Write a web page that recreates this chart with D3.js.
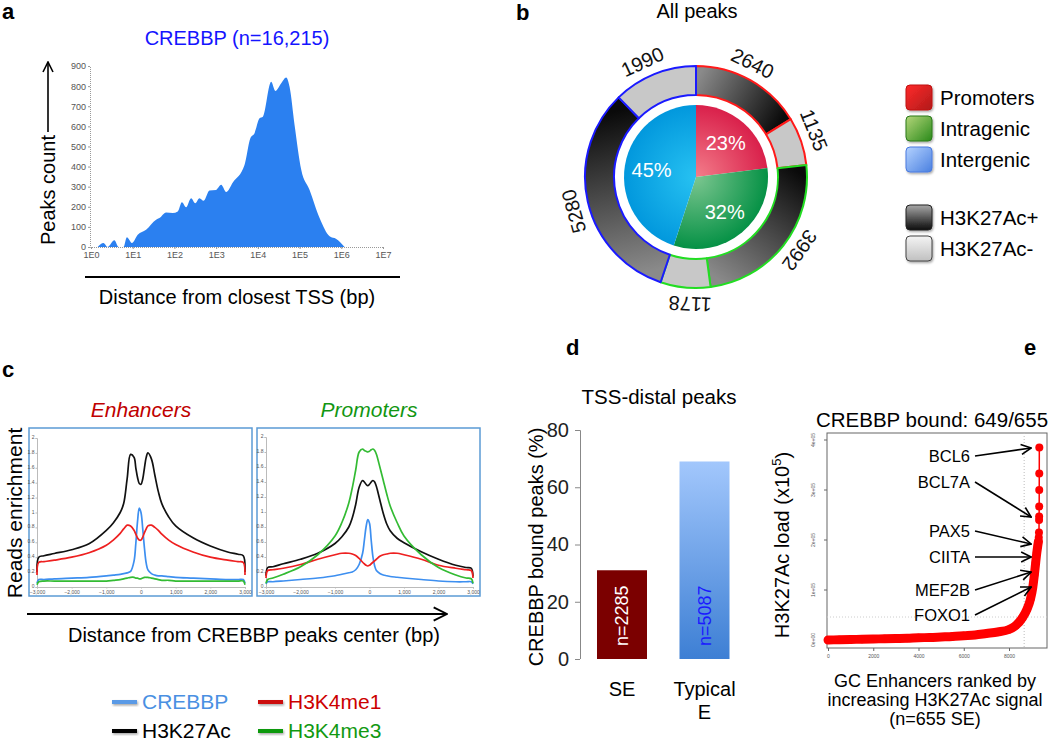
<!DOCTYPE html>
<html><head><meta charset="utf-8">
<script src="https://cdn.jsdelivr.net/npm/d3@7"></script>
<style>
body{margin:0;background:#fff;}
svg{font-family:"Liberation Sans",Arial,Helvetica,sans-serif;}
</style></head><body>
<svg id="fig" width="1050" height="741"></svg>
<script>
// ================= DATA =================
// Panel a: CREBBP peaks vs distance to TSS (log10 bp)
const tssLog10 = [0.16,0.30,0.40,0.56,0.66,0.78,0.86,0.98,1.12,1.32,1.56,1.64,1.80,1.96,2.08,2.18,2.28,2.40,2.50,2.60,2.70,2.84,3.00,3.12,3.24,3.40,3.68,3.82,3.92,4.04,4.12,4.32,4.42,4.56,4.68,4.76,4.88,5.04,5.24,5.48,5.72,5.88,6.08];
const tssCount = [0,20,0,33,0,0,48,20,61,86,136,144,172,169,177,223,198,243,218,243,230,281,284,309,273,321,408,541,566,640,648,822,776,814,843,797,607,384,284,144,53,40,0];
const tssTicks = [0,1,2,3,4,5,6,7];
const countTicks = [0,100,200,300,400,500,600,700,800,900];

// Panel b: all peaks
const pieCategories = ["Promoters","Intragenic","Intergenic"];
const piePercents = [23,32,45];
const ringCategories = ["Promoters","Promoters","Intragenic","Intragenic","Intergenic","Intergenic"];
const ringMarks = ["H3K27Ac+","H3K27Ac-","H3K27Ac+","H3K27Ac-","H3K27Ac+","H3K27Ac-"];
const ringCounts = [2640,1135,3992,1178,5280,1990];
const legendB = ["Promoters","Intragenic","Intergenic","H3K27Ac+","H3K27Ac-"];

// Panel c: read profiles (x in bp from peak center)
const profileX = [-3000,-2950,-2800,-2500,-2000,-1500,-1000,-800,-600,-500,-400,-300,-200,-150,-100,-50,0,50,100,150,200,300,400,500,600,800,1000,1500,2000,2500,2800,2950,3000];
const enhCREBBP  = [0.05,0.10,0.10,0.11,0.12,0.13,0.15,0.16,0.17,0.18,0.19,0.21,0.35,0.58,0.88,1.06,1.00,0.78,0.52,0.32,0.23,0.18,0.16,0.15,0.15,0.14,0.13,0.12,0.11,0.10,0.10,0.10,0.05];
const enhH3K27Ac = [0.20,0.40,0.42,0.45,0.50,0.58,0.76,0.86,1.00,1.12,1.45,1.78,1.74,1.60,1.47,1.39,1.38,1.45,1.60,1.74,1.80,1.72,1.50,1.28,1.12,0.94,0.82,0.66,0.55,0.47,0.44,0.42,0.20];
const enhH3K4me1 = [0.16,0.33,0.34,0.36,0.40,0.46,0.56,0.63,0.72,0.78,0.83,0.82,0.76,0.71,0.66,0.63,0.63,0.67,0.73,0.78,0.82,0.83,0.80,0.76,0.71,0.63,0.57,0.47,0.40,0.36,0.34,0.33,0.16];
const enhH3K4me3 = [0.03,0.07,0.08,0.08,0.08,0.08,0.08,0.09,0.10,0.11,0.12,0.13,0.13,0.12,0.12,0.11,0.11,0.12,0.13,0.13,0.13,0.12,0.11,0.10,0.09,0.09,0.08,0.08,0.08,0.08,0.08,0.08,0.03];
const proCREBBP  = [0.04,0.07,0.07,0.08,0.10,0.12,0.15,0.17,0.19,0.20,0.23,0.30,0.45,0.62,0.80,0.90,0.85,0.62,0.40,0.28,0.22,0.18,0.16,0.15,0.14,0.13,0.12,0.10,0.08,0.07,0.07,0.07,0.04];
const proH3K27Ac = [0.15,0.26,0.27,0.31,0.37,0.45,0.58,0.67,0.80,0.92,1.10,1.33,1.42,1.40,1.37,1.35,1.37,1.40,1.42,1.40,1.34,1.16,0.98,0.84,0.75,0.65,0.59,0.47,0.37,0.29,0.26,0.25,0.14];
const proH3K4me1 = [0.12,0.22,0.23,0.25,0.30,0.37,0.43,0.45,0.45,0.44,0.42,0.38,0.33,0.31,0.29,0.28,0.29,0.31,0.33,0.35,0.37,0.41,0.43,0.44,0.45,0.45,0.43,0.37,0.29,0.25,0.23,0.22,0.12];
const proH3K4me3 = [0.05,0.10,0.12,0.17,0.27,0.43,0.68,0.86,1.12,1.32,1.56,1.80,1.84,1.82,1.81,1.80,1.81,1.83,1.84,1.82,1.77,1.60,1.42,1.24,1.08,0.86,0.68,0.43,0.26,0.16,0.12,0.11,0.05];
const profileXTicks = [-3000,-2000,-1000,0,1000,2000,3000];
const profileYTicks = [0,0.2,0.4,0.6,0.8,1,1.2,1.4,1.6,1.8,2];
const seriesNames = ["CREBBP","H3K27Ac","H3K4me1","H3K4me3"];

// Panel d
const barCategories = ["SE","Typical E"];
const barValues = [31,69];
const barCounts = ["n=2285","n=5087"];
const pctTicks = [0,20,40,60,80];

// Panel e (load in units of 1e5)
const seRank = [0,500,1000,1500,2000,2500,3000,3500,4000,4500,5000,5500,6000,6500,7000,7500,8000,8300,8600,8800,8950,9050,9120,9180,9230,9270,9300,9315,9325,9330,9332,9334,9336,9338,9340];
const seLoad = [0.00,0.005,0.01,0.015,0.02,0.025,0.03,0.035,0.045,0.05,0.06,0.07,0.085,0.10,0.13,0.16,0.21,0.29,0.45,0.62,0.82,1.05,1.30,1.55,1.75,1.88,1.97,2.05,2.15,2.40,2.47,2.67,3.00,3.33,3.85];
const geneLabels = ["BCL6","BCL7A","PAX5","CIITA","MEF2B","FOXO1"];
const geneLoads = [3.84,2.46,1.92,1.66,1.36,1.06];
const geneRank = 8980;
const rankTicks = [0,2000,4000,6000,8000];
const loadTicks = [0,1,2,3,4];
const seRankCut = 8670, seLoadCut = 0.46;

// ================= DRAW =================
const svg = d3.select("#fig");
const defs = svg.append("defs");
function marker(id, s, w){
  defs.append("marker").attr("id",id).attr("viewBox","0 0 12 12").attr("refX",11).attr("refY",6)
    .attr("markerWidth",s).attr("markerHeight",s).attr("markerUnits","userSpaceOnUse").attr("orient","auto")
    .append("path").attr("d","M1,1 L11,6 L1,11").attr("fill","none").attr("stroke","#000").attr("stroke-width",w);
}
marker("chevA",12,1.6); marker("chevE",12,1.6); marker("chevC",16,1.4);
const shadow = defs.append("filter").attr("id","shd").attr("x","-30%").attr("y","-60%").attr("width","160%").attr("height","220%");
shadow.append("feDropShadow").attr("dx",1).attr("dy",1.5).attr("stdDeviation",1.2).attr("flood-color","#000").attr("flood-opacity",0.35);

function linGrad(id, x1,y1,x2,y2, c1, c2, units){
  const g = defs.append("linearGradient").attr("id",id).attr("x1",x1).attr("y1",y1).attr("x2",x2).attr("y2",y2);
  if(units) g.attr("gradientUnits",units);
  g.append("stop").attr("offset",0).attr("stop-color",c1);
  g.append("stop").attr("offset",1).attr("stop-color",c2);
}
function txt(g, x, y, s, size, opts={}){
  const t = g.append("text").attr("x",x).attr("y",y).attr("font-size",size).text(s)
    .attr("text-anchor",opts.anchor||"middle").attr("fill",opts.fill||"#000");
  if(opts.weight) t.attr("font-weight",opts.weight);
  if(opts.style) t.attr("font-style",opts.style);
  if(opts.rotate!==undefined) t.attr("transform",`rotate(${opts.rotate},${x},${y})`);
  if(opts.dy) t.attr("dy",opts.dy);
  return t;
}

// panel letters
[["a",2,19],["b",516,20],["c",2,377],["d",566,355],["e",1024,355]].forEach(l=>txt(svg,l[1],l[2],l[0],22,{anchor:"start",weight:"bold"}));

// ---------- Panel a ----------
{
  const g = svg.append("g");
  const x = d3.scaleLinear().domain([0,7]).range([91,383]);
  const y = d3.scaleLinear().domain([0,900]).range([247,66]);
  g.append("path").datum(d3.zip(tssLog10,tssCount))
    .attr("d", d3.area().x(d=>x(d[0])).y0(y(0)).y1(d=>y(d[1])).curve(d3.curveMonotoneX))
    .attr("fill","#2b80f0");
  const ya = g.append("g").attr("transform","translate(90,0)")
    .call(d3.axisLeft(y).tickValues(countTicks).tickSize(2).tickPadding(2));
  const xa = g.append("g").attr("transform","translate(0,247)")
    .call(d3.axisBottom(x).tickValues(tssTicks).tickFormat(d=>"1E"+d).tickSize(2).tickPadding(3));
  [ya,xa].forEach(a=>{
    a.selectAll("text").attr("font-size",9).attr("fill","#555").attr("font-family","inherit");
    a.selectAll("line").attr("stroke","#999");
    a.select(".domain").attr("stroke","#999").attr("stroke-dasharray","1,1");
  });
  txt(g,237,45,"CREBBP (n=16,215)",20,{fill:"#1414ff"});
  txt(g,48,190,"Peaks count",20,{rotate:-90,dy:"0.35em"});
  g.append("line").attr("x1",48).attr("y1",132).attr("x2",48).attr("y2",62).attr("stroke","#000").attr("stroke-width",1.6).attr("marker-end","url(#chevA)");
  g.append("line").attr("x1",85).attr("y1",277).attr("x2",400).attr("y2",277).attr("stroke","#000").attr("stroke-width",2);
  txt(g,237,304,"Distance from closest TSS (bp)",20);
}

// ---------- Panel b ----------
{
  const cx = 696, cy = 177;
  const g = svg.append("g").attr("transform",`translate(${cx},${cy})`);
  txt(svg,697,18,"All peaks",20);
  const catColor = {Promoters:"#ff1a1a",Intragenic:"#22dd22",Intergenic:"#1a1aff"};
  const pg = {Promoters:["#f37d8a","#d81c48"],Intragenic:["#7cc690","#008f42"],Intergenic:["#27c2f2","#0096dc"]};
  pieCategories.forEach((c,i)=>{
    const rg = defs.append("radialGradient").attr("id","pie"+i).attr("gradientUnits","userSpaceOnUse")
      .attr("cx",0).attr("cy",0).attr("r",75).attr("fx",0).attr("fy",0);
    rg.append("stop").attr("offset",0).attr("stop-color",pg[c][0]);
    rg.append("stop").attr("offset",1).attr("stop-color",pg[c][1]);
  });
  const pie = d3.pie().sort(null).value(d=>d)(piePercents);
  const pArc = d3.arc().innerRadius(0).outerRadius(72);
  g.selectAll(".pie").data(pie).join("path").attr("d",pArc).attr("fill",(d,i)=>`url(#pie${i})`);
  const lArc = d3.arc().innerRadius(45).outerRadius(45);
  g.selectAll(".pl").data(pie).join("text").attr("transform",d=>`translate(${lArc.centroid(d)})`)
    .attr("dy","0.35em").attr("text-anchor","middle").attr("font-size",20).attr("fill","#fff").text(d=>d.data+"%");
  const ring = d3.pie().sort(null).value(d=>d)(ringCounts);
  const rArc = d3.arc().innerRadius(82).outerRadius(111);
  ring.forEach((d,i)=>{
    if(ringMarks[i]==="H3K27Ac+"){
      const a0=d.startAngle, a1=d.endAngle, r=96;
      const p0=[r*Math.sin(a0),-r*Math.cos(a0)], p1=[r*Math.sin(a1),-r*Math.cos(a1)];
      const rev = ringCategories[i]==="Intragenic";
      linGrad("ring"+i,p0[0],p0[1],p1[0],p1[1], rev?"#0a0a0a":"#8a8a8a", rev?"#8a8a8a":"#0a0a0a","userSpaceOnUse");
    }
  });
  g.selectAll(".ring").data(ring).join("path").attr("d",rArc)
    .attr("fill",(d,i)=>ringMarks[i]==="H3K27Ac+"?`url(#ring${i})`:"#c8c8c8")
    .attr("stroke",(d,i)=>catColor[ringCategories[i]]).attr("stroke-width",2).attr("stroke-linejoin","round");
  g.selectAll(".rl").data(ring).join("text").each(function(d){
    const a=(d.startAngle+d.endAngle)/2 - 0.05, r=127;
    d3.select(this).attr("transform",`translate(${r*Math.sin(a)},${-r*Math.cos(a)}) rotate(${a*180/Math.PI})`);
  }).attr("dy","0.35em").attr("text-anchor","middle").attr("font-size",20).attr("fill","#111").text(d=>d.data);
  const lg = {Promoters:["#ff2a2a","#b01a1a","#c01010"],Intragenic:["#b4d67a","#2a8a1a","#2a7a1a"],
    Intergenic:["#b4d2ff","#4a80e0","#4a7ae0"],"H3K27Ac+":["#a8a8a8","#0a0a0a","#222"],"H3K27Ac-":["#f4f4f4","#c0c0c0","#444"]};
  const ly = [85,116,147,205,236];
  legendB.forEach((name,i)=>{
    const vert = i>=3;
    linGrad("lg"+i, 0,0, vert?0:1, 1, lg[name][0], lg[name][1]);
    svg.append("rect").attr("x",906).attr("y",ly[i]).attr("width",26).attr("height",25).attr("rx",4)
      .attr("fill",`url(#lg${i})`).attr("stroke",lg[name][2]).attr("stroke-width",1).attr("filter","url(#shd)");
    txt(svg,940,ly[i]+12.5,name,20.5,{anchor:"start",dy:"0.35em"});
  });
}

// ---------- Panel c ----------
{
  const colors = {CREBBP:"#3d8ff0",H3K27Ac:"#111111",H3K4me1:"#ee2020",H3K4me3:"#33bb33"};
  function profile(box, xr, yr, data, title, tcolor){
    const g = svg.append("g");
    txt(g,box[0]+box[2]/2+0.5,417,title,21,{style:"italic",fill:tcolor});
    g.append("rect").attr("x",box[0]).attr("y",box[1]).attr("width",box[2]).attr("height",box[3])
      .attr("fill","none").attr("stroke","#5b9bd5").attr("stroke-width",1.5);
    const x = d3.scaleLinear().domain([-3000,3000]).range(xr);
    const y = d3.scaleLinear().domain([0,2]).range(yr);
    const ya = g.append("g").attr("transform",`translate(${xr[0]},0)`)
      .call(d3.axisLeft(y).tickValues(profileYTicks).tickSize(1.5).tickPadding(1).tickFormat(d3.format("~g")));
    const xa = g.append("g").attr("transform",`translate(0,${yr[0]})`)
      .call(d3.axisBottom(x).tickValues(profileXTicks).tickSize(1.5).tickPadding(2).tickFormat(d3.format(",")));
    [ya,xa].forEach(a=>{
      a.selectAll("text").attr("font-size",5).attr("fill","#555").attr("font-family","inherit");
      a.selectAll("line").attr("stroke","#bbb");
      a.select(".domain").attr("stroke","#bbb");
    });
    ya.selectAll(".tick text").attr("dy","0.1em");
    const line = d3.line().x((d,i)=>x(profileX[i])).y(d=>y(d)).curve(d3.curveCatmullRom);
    seriesNames.forEach(s=>{
      g.append("path").datum(data[s]).attr("d",line).attr("fill","none")
        .attr("stroke",colors[s]).attr("stroke-width",1.7);
    });
  }
  profile([29,428,223,168],[37,245],[587,438],{CREBBP:enhCREBBP,H3K27Ac:enhH3K27Ac,H3K4me1:enhH3K4me1,H3K4me3:enhH3K4me3},"Enhancers","#c00000");
  profile([257,428,223,168],[266,473],[587,437],{CREBBP:proCREBBP,H3K27Ac:proH3K27Ac,H3K4me1:proH3K4me1,H3K4me3:proH3K4me3},"Promoters","#129612");
  txt(svg,15,513,"Reads enrichment",21,{rotate:-90,dy:"0.35em"});
  svg.append("line").attr("x1",27).attr("y1",614).attr("x2",447).attr("y2",614).attr("stroke","#000").attr("stroke-width",2.2).attr("marker-end","url(#chevC)");
  txt(svg,254,642,"Distance from CREBBP peaks center (bp)",20);
  const legTxt = {CREBBP:"#4a90e2",H3K27Ac:"#000",H3K4me1:"#cc0000",H3K4me3:"#119911"};
  const legLine = {CREBBP:"#5a9ae6",H3K27Ac:"#000",H3K4me1:"#cc1111",H3K4me3:"#119911"};
  const pos = {CREBBP:[112,702],H3K4me1:[258,702],H3K27Ac:[112,731],H3K4me3:[258,731]};
  seriesNames.forEach(s=>{
    const [lx,ly] = pos[s];
    svg.append("rect").attr("x",lx).attr("y",ly-2).attr("width",25).attr("height",4)
      .attr("fill",legLine[s]).attr("filter","url(#shd)");
    txt(svg,lx+30,ly,s,21,{anchor:"start",fill:legTxt[s],dy:"0.35em"});
  });
}

// ---------- Panel d ----------
{
  const g = svg.append("g");
  const x = d3.scaleBand().domain(barCategories).range([580,746.5]).paddingInner(0.394).paddingOuter(0.206);
  const y = d3.scaleLinear().domain([0,80]).range([659,430]);
  txt(g,659,404,"TSS-distal peaks",20.5);
  const ya = g.append("g").attr("transform","translate(580,0)")
    .call(d3.axisLeft(y).tickValues(pctTicks).tickSize(5).tickPadding(6));
  ya.selectAll("text").attr("font-size",20).attr("fill","#222").attr("font-family","inherit");
  ya.selectAll("line").attr("stroke","#888");
  ya.select(".domain").attr("stroke","#888").attr("d","M-5,430.5H0.5V659");
  linGrad("typE",0,0,0,1,"#a2c7fc","#3d7fd4");
  const fills = ["#7b0000","url(#typE)"];
  g.selectAll(".bar").data(barValues).join("rect")
    .attr("x",(d,i)=>x(barCategories[i])).attr("width",x.bandwidth())
    .attr("y",d=>y(d)).attr("height",d=>y(0)-y(d)).attr("fill",(d,i)=>fills[i]);
  const cfill = ["#ffffff","#1a1aff"];
  barCounts.forEach((s,i)=>{
    const cx = x(barCategories[i])+x.bandwidth()/2;
    txt(g,cx,646,s,18,{anchor:"start",rotate:-90,fill:cfill[i],dy:"0.35em"});
  });
  barCategories.forEach(c=>{
    const cx = x(c)+x.bandwidth()/2;
    c.split(" ").forEach((w,j)=>txt(g,cx,696+j*23,w,20));
  });
  txt(g,536,547,"CREBBP bound peaks (%)",20,{rotate:-90,dy:"0.35em"});
}

// ---------- Panel e ----------
{
  const g = svg.append("g");
  const x = d3.scaleLinear().domain([0,8000]).range([828,1009]);
  const y = d3.scaleLinear().domain([0,4]).range([640,440]);
  txt(g,932,427,"CREBBP bound: 649/655",20.5);
  g.append("rect").attr("x",827).attr("y",433).attr("width",220).attr("height",215).attr("fill","none").attr("stroke","#666").attr("stroke-width",1);
  g.append("line").attr("x1",x(seRankCut)).attr("x2",x(seRankCut)).attr("y1",433).attr("y2",648).attr("stroke","#bbb").attr("stroke-dasharray","1,2");
  g.append("line").attr("x1",827).attr("x2",1047).attr("y1",y(seLoadCut)).attr("y2",y(seLoadCut)).attr("stroke","#ccc").attr("stroke-dasharray","1,2");
  const ya = g.append("g").attr("transform","translate(827,0)")
    .call(d3.axisLeft(y).tickValues(loadTicks).tickSize(3).tickFormat(d=>d===0?"0e+00":d+"e+05"));
  ya.selectAll("text").attr("font-size",5).attr("fill","#555").attr("font-family","inherit")
    .attr("text-anchor","middle").attr("transform","rotate(-90)")
    .attr("x",d=>-y(d)).attr("y",-12).attr("dy",0);
  ya.selectAll(".tick").attr("transform","translate(0,0)");
  ya.selectAll(".tick line").attr("y1",d=>y(d)).attr("y2",d=>y(d)).attr("stroke","#666");
  ya.select(".domain").remove();
  const xa = g.append("g").attr("transform","translate(0,648)")
    .call(d3.axisBottom(x).tickValues(rankTicks).tickSize(3).tickPadding(3).tickFormat(d=>String(d)));
  xa.selectAll("text").attr("font-size",5).attr("fill","#555").attr("font-family","inherit");
  xa.selectAll("line").attr("stroke","#666");
  xa.select(".domain").remove();
  const pts = d3.zip(seRank,seLoad);
  const low = pts.filter(d=>d[1]<=2.0);
  g.append("path").datum(low).attr("d",d3.line().x(d=>x(d[0])).y(d=>y(d[1])).curve(d3.curveMonotoneX))
    .attr("fill","none").attr("stroke","#ff0000")
    .attr("stroke-width",9).attr("stroke-linecap","round").attr("stroke-linejoin","round");
  g.append("path").datum(pts).attr("d",d3.line().x(d=>x(d[0])).y(d=>y(d[1]))).attr("fill","none").attr("stroke","#ff0000").attr("stroke-width",1.5);
  g.selectAll(".pt").data(pts).join("circle").attr("cx",d=>x(d[0])).attr("cy",d=>y(d[1])).attr("r",4).attr("fill","#ff0000");
  const labY = [456,482,531,557,590,615];
  geneLabels.forEach((s,i)=>{
    txt(g,970,labY[i],s,16.5,{anchor:"end",dy:"0.35em"});
    g.append("line").attr("x1",975).attr("y1",labY[i]).attr("x2",x(geneRank)).attr("y2",y(geneLoads[i]))
      .attr("stroke","#000").attr("stroke-width",1.6).attr("marker-end","url(#chevE)");
  });
  txt(g,782,545,"",20,{rotate:-90,dy:"0.35em"}).call(t=>{
    t.append("tspan").text("H3K27Ac load (x10");
    t.append("tspan").text("5").attr("font-size",13).attr("dy","-0.6em");
    t.append("tspan").text(")").attr("dy","0.45em");
  });
  ["GC Enhancers ranked by","increasing H3K27Ac signal","(n=655 SE)"].forEach((s,i)=>txt(g,935,687+i*19,s,18));
}
</script>
</body></html>
